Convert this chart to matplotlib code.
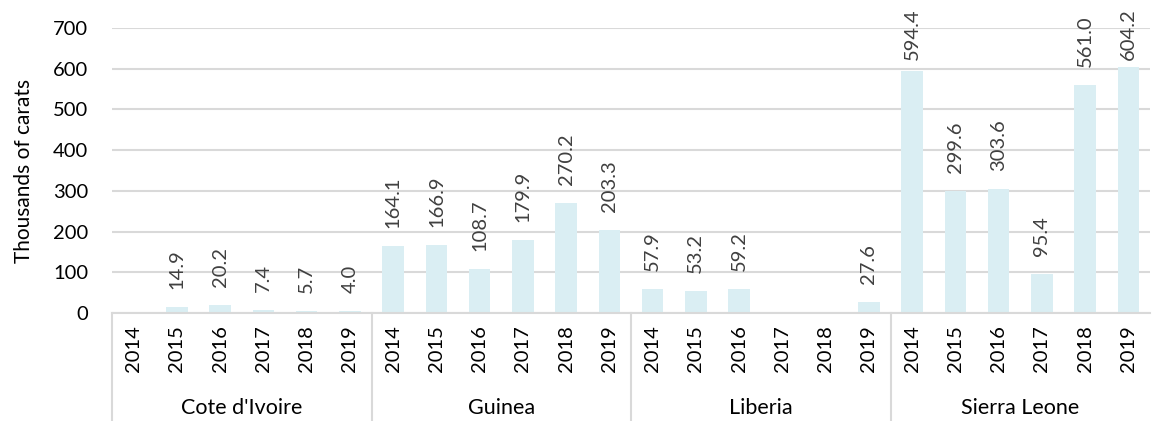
import matplotlib
matplotlib.use("Agg")
import matplotlib.pyplot as plt
import matplotlib.transforms as mtransforms
import numpy as np

plt.rcParams['font.family'] = ['Lato', 'DejaVu Sans']

countries = ["Cote d'Ivoire", "Guinea", "Liberia", "Sierra Leone"]
years = ["2014", "2015", "2016", "2017", "2018", "2019"]
cote_divoire = [np.nan, 14.9, 20.2, 7.4, 5.7, 4.0]
guinea = [164.1, 166.9, 108.7, 179.9, 270.2, 203.3]
liberia = [57.9, 53.2, 59.2, np.nan, np.nan, 27.6]
sierra_leone = [594.4, 299.6, 303.6, 95.4, 561.0, 604.2]
yticks = [0, 100, 200, 300, 400, 500, 600, 700]

series = [cote_divoire, guinea, liberia, sierra_leone]
values = [v for s in series for v in s]
n = len(values)
x = np.arange(n)

fig = plt.figure(figsize=(11.54, 4.21), dpi=100)
ax_h_px = 313 - 28
ax = fig.add_axes([112/1154, (421-313)/421, (1150-112)/1154, ax_h_px/421])

grid_c = '#D9D9D9'
txt_c = '#404040'
bar_c = '#DAEEF3'
ymax = 700

ax.bar(x, np.nan_to_num(values), width=0.5, color=bar_c, zorder=2)

trans = mtransforms.blended_transform_factory(ax.transData, ax.transAxes)
label_gap = 18 / ax_h_px
label_cap = (313 - 60) / ax_h_px
for xi, v in zip(x, values):
    if not np.isnan(v):
        yb = min(v / ymax + label_gap, label_cap)
        ax.text(xi, yb, f"{v:.1f}", transform=trans, rotation=90,
                ha='center', va='bottom', fontsize=14.5, color=txt_c, clip_on=False)

ax.set_xlim(-0.5, n - 0.5)
ax.set_ylim(0, ymax)
ax.set_yticks(yticks)
ax.set_yticklabels([str(t) for t in yticks], fontsize=14.5, color='black')
ax.tick_params(axis='y', length=0, pad=17)
ax.yaxis.grid(True, color=grid_c, linewidth=1.5, zorder=0)
ax.set_axisbelow(True)
for s in ['top', 'right', 'left']:
    ax.spines[s].set_visible(False)
ax.spines['bottom'].set_color(grid_c)
ax.spines['bottom'].set_linewidth(1.5)
ax.set_xticks([])
ax.set_ylabel("Thousands of carats", fontsize=15, color='black')
ax.yaxis.set_label_coords(-78 / 1038, 0.5)

tr_off = trans + mtransforms.ScaledTranslation(0, -9/72, fig.dpi_scale_trans)
for i, xi in enumerate(x):
    ax.text(xi, 0, years[i % len(years)], transform=tr_off, rotation=90,
            ha='center', va='top', fontsize=14.5, color='black')

ybot = -108 / ax_h_px
ng = len(years)
for g in range(len(countries)):
    xs = g * ng - 0.5
    ax.plot([xs, xs], [0, ybot], transform=trans, color=grid_c, lw=1.5, clip_on=False)
    ax.text(g * ng + (ng - 1) / 2, -95 / ax_h_px, countries[g], transform=trans,
            ha='center', va='center', fontsize=15.5, color='black')

fig.savefig("out.png", dpi=100)
